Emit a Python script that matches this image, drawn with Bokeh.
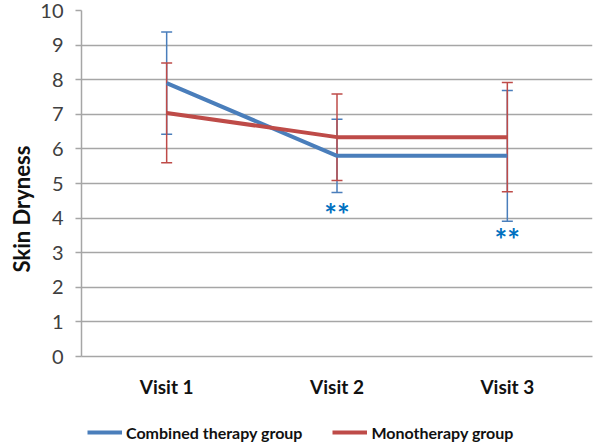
from bokeh.plotting import figure
from bokeh.layouts import column
from bokeh.models import (ColumnDataSource, Whisker, TeeHead, FixedTicker,
                          Legend, LegendItem, Range1d, Title)
from bokeh.core.properties import value
from bokeh.embed import file_html
from bokeh.resources import INLINE

# Skin dryness scores per visit (mean and SD)
visits = ["Visit 1", "Visit 2", "Visit 3"]
combined_mean = [7.9, 5.8, 5.8]
combined_sd = [1.48, 1.06, 1.89]
mono_mean = [7.04, 6.34, 6.34]
mono_sd = [1.44, 1.25, 1.58]
series_names = ["Combined therapy group", "Monotherapy group"]
# significance markers for the combined therapy group
sig_visits = [2, 3]
sig_labels = ["**", "**"]
sig_y = [4.13, 3.40]

BLUE = "#4a7ebb"
RED = "#be4b48"
GRID = "#a6a6a6"
FONT = "Lato"

xs = [1, 2, 3]

p = figure(width=597, height=412, output_backend="svg", toolbar_location=None,
           x_range=Range1d(0.5, 3.5), y_range=Range1d(0, 10),
           min_border_left=81, min_border_right=5, min_border_top=10,
           min_border_bottom=56)
p.outline_line_color = None
p.background_fill_color = "white"
p.border_fill_color = "white"

# grid
p.xgrid.grid_line_color = None
p.ygrid.grid_line_color = GRID
p.ygrid.grid_line_width = 1.5

# y axis
p.yaxis.ticker = FixedTicker(ticks=list(range(0, 11)))
p.yaxis.axis_line_color = GRID
p.yaxis.axis_line_width = 1.5
p.yaxis.major_tick_line_color = GRID
p.yaxis.major_tick_line_width = 1.5
p.yaxis.major_tick_out = 6
p.yaxis.major_tick_in = 0
p.yaxis.minor_tick_line_color = None
p.yaxis.major_label_text_font = FONT
p.yaxis.major_label_text_font_size = "20px"
p.yaxis.major_label_text_color = "#404040"
p.yaxis.major_label_standoff = 12

# y axis title, set a little below the middle of the axis
ytitle = Title(text="Skin Dryness", align="left", offset=84,
               text_font=FONT, text_font_style="bold", text_font_size="22px",
               text_color="#111111", standoff=5)
p.add_layout(ytitle, "left")

# x axis
p.xaxis.ticker = FixedTicker(ticks=xs)
p.xaxis.major_label_overrides = {x: v for x, v in zip(xs, visits)}
p.xaxis.axis_line_color = GRID
p.xaxis.axis_line_width = 1.5
p.xaxis.major_tick_line_color = None
p.xaxis.minor_tick_line_color = None
p.xaxis.major_label_text_font = FONT
p.xaxis.major_label_text_font_style = "bold"
p.xaxis.major_label_text_font_size = "19px"
p.xaxis.major_label_text_color = "#111111"
p.xaxis.major_label_standoff = 12

src_c = ColumnDataSource(dict(
    x=xs, y=combined_mean,
    lo=[m - s for m, s in zip(combined_mean, combined_sd)],
    hi=[m + s for m, s in zip(combined_mean, combined_sd)]))
src_m = ColumnDataSource(dict(
    x=xs, y=mono_mean,
    lo=[m - s for m, s in zip(mono_mean, mono_sd)],
    hi=[m + s for m, s in zip(mono_mean, mono_sd)]))

p.line("x", "y", source=src_c, line_color=BLUE, line_width=4)
p.line("x", "y", source=src_m, line_color=RED, line_width=4)

for src, col in ((src_c, BLUE), (src_m, RED)):
    w = Whisker(base="x", lower="lo", upper="hi", source=src,
                line_color=col, line_width=1.5,
                upper_head=TeeHead(size=11, line_color=col, line_width=1.5),
                lower_head=TeeHead(size=11, line_color=col, line_width=1.5))
    p.add_layout(w)

p.text(x=sig_visits, y=sig_y, text=sig_labels, text_font=value(FONT),
       text_font_style="bold", text_font_size="30px", text_color="#0070c0",
       text_align="center", text_baseline="middle")

# legend strip underneath the chart; its key lines sit outside its view
leg = figure(width=597, height=30, output_backend="svg", toolbar_location=None,
             x_range=Range1d(0, 1), y_range=Range1d(0, 1),
             min_border=0)
leg.axis.visible = False
leg.grid.visible = False
leg.outline_line_color = None
key_c = leg.line(xs, combined_mean, line_color=BLUE, line_width=4)
key_m = leg.line(xs, mono_mean, line_color=RED, line_width=4)
legend = Legend(items=[LegendItem(label=series_names[0], renderers=[key_c]),
                       LegendItem(label=series_names[1], renderers=[key_m])],
                orientation="horizontal", location=(6, 0),
                border_line_color=None, background_fill_alpha=0,
                label_text_font=FONT, label_text_font_style="bold",
                label_text_font_size="16px", label_text_color="#111111",
                glyph_width=35, glyph_height=20, label_height=20,
                label_standoff=4, spacing=30, padding=0, margin=0)
leg.add_layout(legend, "center")

open("out.html", "w").write(file_html(column(p, leg, spacing=0), INLINE))
